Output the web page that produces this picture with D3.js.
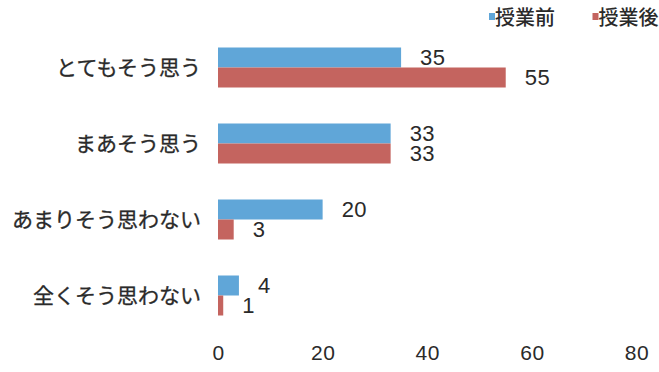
<!DOCTYPE html>
<html>
<head>
<meta charset="utf-8">
<script src="https://cdn.jsdelivr.net/npm/d3@7"></script>
<style>
  html, body { margin: 0; padding: 0; background: #fff; }
  svg { display: block; }
</style>
</head>
<body>
<svg id="chart" width="659" height="372"></svg>
<script>
// Survey answers, before and after the lesson
const categories = ["とてもそう思う", "まあそう思う", "あまりそう思わない", "全くそう思わない"];
const seriesNames = ["授業前", "授業後"];
const beforeValues = [35, 33, 20, 4];
const afterValues = [55, 33, 3, 1];
const xTicks = [0, 20, 40, 60, 80];
const seriesColors = ["#60a6d8", "#c4645f"];

const rows = categories.map((c, i) => ({
  category: c,
  values: [beforeValues[i], afterValues[i]]
}));

const svg = d3.select("#chart");
const jpFont = "'Noto Sans CJK JP', 'Noto Sans', sans-serif";
const numFont = "'Liberation Sans', Arial, sans-serif";
const textColor = "#2a2a2a";

const x = d3.scaleLinear().domain([0, 80]).range([218, 636.5]);
const y = d3.scaleBand()
  .domain(categories)
  .range([29.5, 333.5])
  .paddingInner(36 / 76)
  .paddingOuter(18 / 76);
const ySub = d3.scaleBand()
  .domain(seriesNames)
  .range([0, y.bandwidth()]);
const color = d3.scaleOrdinal().domain(seriesNames).range(seriesColors);

// Bars
const groups = svg.append("g")
  .selectAll("g")
  .data(rows)
  .join("g")
  .attr("transform", d => `translate(0,${y(d.category)})`);

const cells = groups.selectAll("g")
  .data(d => d.values.map((v, k) => ({ series: seriesNames[k], value: v })))
  .join("g");

cells.append("rect")
  .attr("x", x(0))
  .attr("y", d => ySub(d.series))
  .attr("width", d => x(d.value) - x(0))
  .attr("height", ySub.bandwidth())
  .attr("fill", d => color(d.series));

// Value labels
cells.append("text")
  .attr("x", d => x(d.value) + 19)
  .attr("y", d => ySub(d.series) + ySub.bandwidth() / 2)
  .attr("dy", "0.36em")
  .attr("font-family", numFont)
  .attr("font-size", 22)
  .attr("letter-spacing", 0.5)
  .attr("fill", textColor)
  .text(d => d.value);

// Category labels
svg.append("g")
  .selectAll("text")
  .data(categories)
  .join("text")
  .attr("x", 201)
  .attr("y", d => y(d) + y.bandwidth() / 2)
  .attr("dy", "0.36em")
  .attr("text-anchor", "end")
  .attr("font-family", jpFont)
  .attr("font-size", 21)
  .attr("fill", textColor)
  .attr("stroke", textColor)
  .attr("stroke-width", 0.3)
  .text(d => d);

// X axis (labels only)
const xAxis = svg.append("g")
  .attr("transform", "translate(0,344)")
  .call(d3.axisBottom(x).tickValues(xTicks).tickSize(0).tickPadding(0));
xAxis.select(".domain").remove();
xAxis.selectAll("text")
  .attr("y", 0)
  .attr("dy", "0.74em")
  .attr("font-family", numFont)
  .attr("font-size", 21)
  .attr("letter-spacing", 0.5)
  .attr("fill", textColor);

// Legend
const legendX = [489, 592.5];
const legend = svg.append("g")
  .selectAll("g")
  .data(seriesNames)
  .join("g")
  .attr("transform", (d, i) => `translate(${legendX[i]},0)`);
legend.append("rect")
  .attr("x", 0)
  .attr("y", 13)
  .attr("width", 6)
  .attr("height", 7)
  .attr("fill", d => color(d));
legend.append("text")
  .attr("x", 6)
  .attr("y", 17.5)
  .attr("dy", "0.36em")
  .attr("font-family", jpFont)
  .attr("font-size", 20)
  .attr("font-weight", 500)
  .attr("fill", textColor)
  .text(d => d);
</script>
</body>
</html>
